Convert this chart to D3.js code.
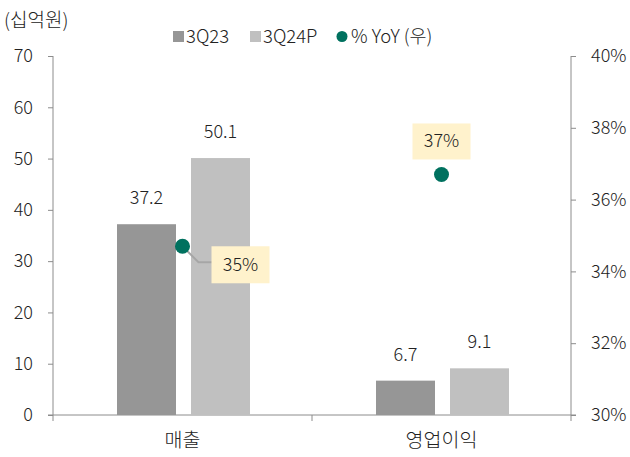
<!DOCTYPE html>
<html>
<head>
<meta charset="utf-8">
<script src="https://cdn.jsdelivr.net/npm/d3@7"></script>
<style>
  body { margin: 0; background: #fff; }
  text { font-family: "Noto Sans CJK KR", "Noto Sans", sans-serif; font-weight: 300; fill: #222; }
</style>
</head>
<body>
<div id="chart"></div>
<script>
// data
var categories = ["매출", "영업이익"];
var series = ["3Q23", "3Q24P"];
var v3Q23 = [37.2, 6.7];
var v3Q24P = [50.1, 9.1];
var yoy = [34.7, 36.7];
var yoyLabels = ["35%", "37%"];
var leftTicks = [0, 10, 20, 30, 40, 50, 60, 70];
var rightTicks = [30, 32, 34, 36, 38, 40];

var W = 630, H = 457;
var COLORS = ["#969696", "#c0c0c0"];
var TEAL = "#00715f";
var AXIS = "#8c8c8c";

var svg = d3.select("#chart").append("svg")
  .attr("width", W).attr("height", H);

var x = d3.scaleBand().domain(categories).range([53, 571]);
var xs = d3.scaleBand().domain(series).range([64, 197]).paddingInner(0.2027);
var y = d3.scaleLinear().domain([0, 70]).range([415, 56]);
var y2 = d3.scaleLinear().domain([30, 40]).range([415, 56]);

//////////////////////////////////
// axes
var left = svg.append("g").attr("transform", "translate(53,0)")
  .call(d3.axisLeft(y).tickValues(leftTicks).tickSize(5).tickPadding(15));
var right = svg.append("g").attr("transform", "translate(571,0)")
  .call(d3.axisRight(y2).tickValues(rightTicks).tickSize(5).tickPadding(15)
    .tickFormat(function(d) { return d + "%"; }));
[left, right].forEach(function(g) {
  g.select(".domain").attr("stroke", AXIS).attr("d", "M0,56V415");
  g.selectAll(".tick line").attr("stroke", AXIS);
  g.selectAll(".tick text").style("font-size", "18px").attr("fill", "#222");
});

// baseline + category ticks
svg.append("line").attr("x1", 48).attr("x2", 576).attr("y1", 415).attr("y2", 415)
  .attr("stroke", AXIS);
var catEdges = [x.range()[0]].concat(categories.map(function(c) { return x(c) + x.bandwidth(); }));
svg.selectAll("line.ctick").data(catEdges).enter().append("line")
  .attr("x1", function(d) { return d; }).attr("x2", function(d) { return d; })
  .attr("y1", 415).attr("y2", 421).attr("stroke", AXIS);
svg.selectAll("text.cat").data(categories).enter().append("text")
  .attr("x", function(c) { return x(c) + x.bandwidth() / 2; })
  .attr("y", 447).attr("text-anchor", "middle").style("font-size", "19.5px")
  .text(function(c) { return c; });

//////////////////////////////////
// bars
var rows = categories.map(function(c, i) {
  return { cat: c, vals: [{ s: series[0], v: v3Q23[i] }, { s: series[1], v: v3Q24P[i] }] };
});
var grp = svg.selectAll("g.cat").data(rows).enter().append("g")
  .attr("transform", function(r) { return "translate(" + x(r.cat) + ",0)"; });
grp.selectAll("rect").data(function(r) { return r.vals; }).enter().append("rect")
  .attr("x", function(d) { return xs(d.s); })
  .attr("y", function(d) { return y(d.v); })
  .attr("width", xs.bandwidth())
  .attr("height", function(d) { return 415 - y(d.v); })
  .attr("fill", function(d, i) { return COLORS[i]; });
grp.selectAll("text.val").data(function(r) { return r.vals; }).enter().append("text")
  .attr("x", function(d) { return xs(d.s) + xs.bandwidth() / 2; })
  .attr("y", function(d) { return y(d.v) - 20; })
  .attr("text-anchor", "middle").style("font-size", "18px")
  .text(function(d) { return d.v.toFixed(1); });

//////////////////////////////////
// YoY points and labels
var cx = function(i) { return x(categories[i]) + x.bandwidth() / 2; };
// leader line for first label
svg.append("path")
  .attr("d", "M" + cx(0) + "," + y2(yoy[0]) + " L" + (cx(0) + 16) + "," + (y2(yoy[0]) + 16) + " H" + (cx(0) + 30))
  .attr("stroke", "#a6a6a6").attr("stroke-width", 2).attr("fill", "none");
var boxes = [
  { dx: 29, dy: 0, w: 58, h: 37 },
  { dx: -29, dy: -51, w: 58, h: 36 }
];
yoy.forEach(function(v, i) {
  var b = boxes[i];
  var bx = cx(i) + b.dx, by = y2(v) + b.dy;
  svg.append("rect").attr("x", bx).attr("y", by).attr("width", b.w).attr("height", b.h)
    .attr("fill", "#fff2cc");
  svg.append("text").attr("x", bx + b.w / 2).attr("y", by + b.h / 2 + 6)
    .attr("text-anchor", "middle").style("font-size", "18px").text(yoyLabels[i]);
});
svg.selectAll("circle.yoy").data(yoy).enter().append("circle")
  .attr("cx", function(d, i) { return cx(i); })
  .attr("cy", function(d) { return y2(d); })
  .attr("r", 7.5).attr("fill", TEAL);

//////////////////////////////////
// title + legend
svg.append("text").attr("x", 4).attr("y", 27).style("font-size", "19px").text("(십억원)");
var leg = svg.append("g").attr("transform", "translate(0,36)");
leg.append("rect").attr("x", 173).attr("y", -5).attr("width", 11).attr("height", 11).attr("fill", COLORS[0]);
leg.append("text").attr("x", 186).attr("y", 7).style("font-size", "18.5px").text(series[0]);
leg.append("rect").attr("x", 250).attr("y", -5).attr("width", 11).attr("height", 11).attr("fill", COLORS[1]);
leg.append("text").attr("x", 263).attr("y", 7).style("font-size", "18.5px").text(series[1]);
leg.append("circle").attr("cx", 342).attr("cy", 0.5).attr("r", 5.5).attr("fill", TEAL);
leg.append("text").attr("x", 351).attr("y", 7).style("font-size", "18.5px").text("% YoY (우)");
</script>
</body>
</html>
